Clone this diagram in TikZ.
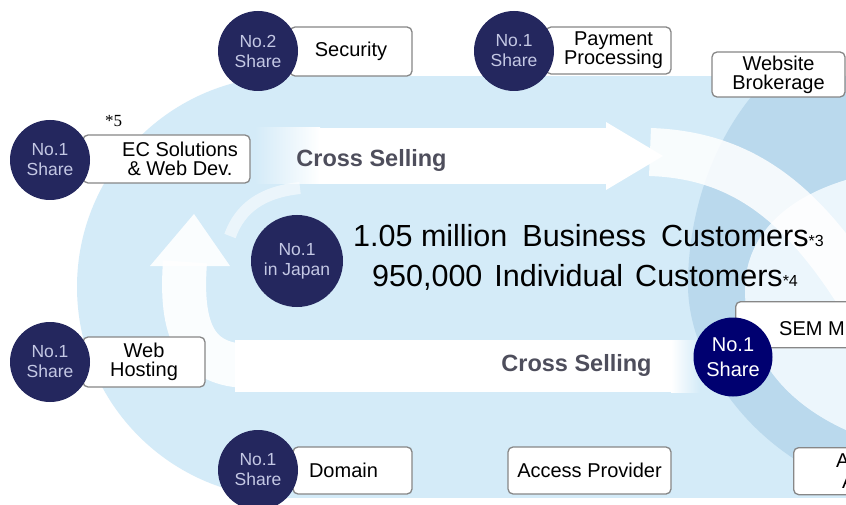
\documentclass[tikz,border=0pt]{standalone}
\usepackage{fontspec}
\setmainfont{Liberation Sans}
\newfontfamily\serifa{Liberation Serif}
\definecolor{lb}{RGB}{212,235,248}
\definecolor{mb}{RGB}{186,217,237}
\definecolor{navy}{RGB}{36,39,94}
\definecolor{navyB}{RGB}{0,0,112}
\definecolor{ctext}{RGB}{196,200,228}
\definecolor{bgray}{RGB}{135,135,135}
\definecolor{cs}{RGB}{78,78,92}
\tikzset{
 box/.style={draw=bgray, line width=1.3pt, fill=white, rounded corners=5pt, inner sep=0pt, align=center, font=\fontsize{20}{19}\selectfont},
 sharec/.style={circle, fill=navy, text=ctext, minimum size=80pt, inner sep=0pt, align=center, font=\fontsize{17.5}{20}\selectfont},
 sharecb/.style={circle, fill=navyB, text=white, minimum size=79pt, inner sep=0pt, align=center, font=\fontsize{20}{25}\selectfont},
 csel/.style={text=cs, font=\bfseries\fontsize{23.5}{26}\selectfont},
 big/.style={anchor=base west, font=\fontsize{30.5}{36}\selectfont, inner sep=0pt},
 band/.style={white, line width=44pt},
}
\begin{document}
\begin{tikzpicture}[x=1pt,y=-1pt]
\begin{scope}
\clip (0,0) rectangle (846,505);
\fill[white] (0,0) rectangle (846,505);
% light blue base
\fill[lb] (288,287) circle[radius=211pt];
\fill[lb] (288,76) rectangle (846,498);
% darker crescent on the right
\fill[mb] (770,76) .. controls (715,130) and (688,210) .. (688,285)
  .. controls (688,360) and (750,450) .. (846,485) -- (846,430)
  .. controls (780,400) and (745,350) .. (745,290)
  .. controls (745,240) and (780,200) .. (846,180) -- (846,76) -- cycle;
% lighter area inside the crescent
\fill[lb!45!white] (846,430) .. controls (780,400) and (745,350) .. (745,290)
  .. controls (745,240) and (780,200) .. (846,180) -- cycle;
% top arrow
\shade[left color=lb, right color=white] (255,128) rectangle (320,184);
\fill[white] (319,128) rectangle (608,184);
\fill[white] (606,122) -- (663,156) -- (606,190) -- cycle;
% right curved band
\draw[band, line width=48pt, opacity=0.85] (650,152) .. controls (740,155) and (800,200) .. (860,295);
% bottom band
\fill[white] (235,340) rectangle (672,392);
\shade[left color=white, right color=lb] (671,340) rectangle (700,392);
% left curve with arrow up
\draw[band, opacity=0.9] (250,366) .. controls (195,366) and (180,330) .. (185,262);
\fill[white, opacity=0.9] (150,266) -- (194,214) -- (230,266) -- cycle;
\draw[white, opacity=0.55, line width=12pt] (300,188) .. controls (262,192) and (240,208) .. (230,236);

% cross selling labels
\node[csel] (cs1) at (371.5,160) {Cross Selling};
\node[csel] (cs2) at (576.5,365) {Cross Selling};

% central text
\node[big] (l1) at (353,247) {1.05 million\hspace{15pt}Business\hspace{15pt}Customers{\fontsize{16}{16}\selectfont*3}};
\node[big] (l2) at (372,286) {950,000\hspace{12pt}Individual\hspace{12pt}Customers{\fontsize{16}{16}\selectfont*4}};

% boxes
\node[box, minimum width=122pt, minimum height=49pt] (sec) at (351,51.5) {Security};
\node[box, minimum width=125pt, minimum height=47pt] (pay) at (608.5,50.5) {\hspace{10pt}Payment\\\hspace{10pt}Processing};
\node[box, minimum width=133pt, minimum height=45pt] (web) at (778.5,74.5) {Website\\Brokerage};
\node[box, minimum width=167pt, minimum height=48pt] (ec) at (166.5,159) {\hspace{27pt}EC Solutions\\\hspace{27pt}\& Web Dev.};
\node[box, minimum width=122pt, minimum height=50pt] (hos) at (144,362) {Web\\Hosting};
\node[box, minimum width=119pt, minimum height=47pt] (dom) at (352.5,470.5) {\hspace{-18pt}Domain};
\node[box, minimum width=163pt, minimum height=47pt] (acc) at (589.5,470.5) {Access Provider};
\node[box, anchor=north west, minimum width=130pt, minimum height=46pt] (sem) at (735,301) {};
\node[anchor=base west, inner sep=0pt, font=\fontsize{20}{20}\selectfont] (semt) at (779,335) {SEM M};
\node[box, anchor=north west, minimum width=80pt, minimum height=47pt] (abox) at (793,447) {};
\node[anchor=base west, inner sep=0pt, font=\fontsize{20}{20}\selectfont] (at1) at (836,467) {A};
\node[anchor=base west, inner sep=0pt, font=\fontsize{20}{20}\selectfont] (at2) at (842,488) {A};
\node[anchor=base west, inner sep=0pt, font=\serifa\fontsize{17}{17}\selectfont] (n5) at (105,127) {*5};

% circles
\node[sharec] (c1) at (258,51) {No.2\\Share};
\node[sharec] (c2) at (514,51) {No.1\\Share};
\node[sharec] (c3) at (50,160) {No.1\\Share};
\node[sharec, minimum size=92pt] (c4) at (297,261) {No.1\\in Japan};
\node[sharec] (c5) at (50,362) {No.1\\Share};
\node[sharec] (c6) at (258,470) {No.1\\Share};
\node[sharecb] (c7) at (733,357) {No.1\\Share};
\end{scope}
\pgfresetboundingbox
\useasboundingbox (0,0) rectangle (846,505);
\end{tikzpicture}
\end{document}
